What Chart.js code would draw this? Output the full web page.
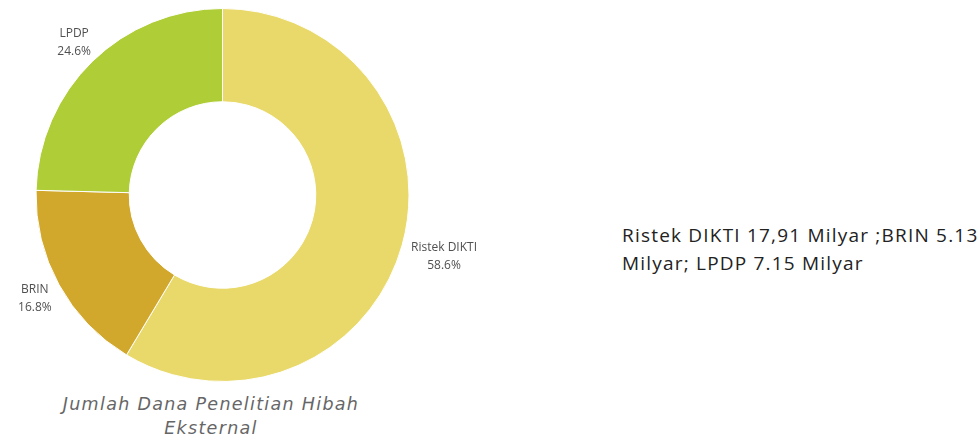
<!DOCTYPE html>
<html>
<head>
<meta charset="utf-8">
<script src="https://cdn.jsdelivr.net/npm/chart.js@4"></script>
<style>
  body { margin: 0; background: #fff; width: 980px; height: 445px; overflow: hidden; position: relative; font-family: "Open Sans", sans-serif; }
  #wrap { position: absolute; left: 0; top: 0; width: 510px; height: 390px; }
  #caption { position: absolute; left: 36px; top: 392px; width: 350px; text-align: center; font-family: "DejaVu Sans", sans-serif; font-style: italic; font-size: 17.5px; letter-spacing: 1.3px; line-height: 24px; color: #666; }
  #note { position: absolute; left: 622px; top: 221px; width: 375px; font-size: 19px; letter-spacing: 1.2px; line-height: 28px; color: #222; }
</style>
</head>
<body>
<div id="wrap"><canvas id="myDana"></canvas></div>
<div id="caption">Jumlah Dana Penelitian Hibah Eksternal</div>
<div id="note">Ristek DIKTI 17,91 Milyar ;BRIN 5.13 Milyar; LPDP 7.15 Milyar</div>
<script>
const labels = ['Ristek DIKTI', 'BRIN', 'LPDP'];
const shares = [58.6, 16.8, 24.6];
const colors = ['#E9D96A', '#D2A82C', '#AECD36'];

// labels outside the ring, name on top and share below
const outsideLabels = {
  id: 'outsideLabels',
  afterDatasetsDraw(chart) {
    const ctx = chart.ctx;
    const total = shares.reduce((a, b) => a + b, 0);
    ctx.save();
    ctx.font = '12px "Open Sans", sans-serif';
    ctx.fillStyle = '#505050';
    ctx.textAlign = 'center';
    ctx.textBaseline = 'middle';
    chart.getDatasetMeta(0).data.forEach((arc, i) => {
      const p = arc.getProps(['x', 'y', 'startAngle', 'endAngle', 'outerRadius'], true);
      const mid = (p.startAngle + p.endAngle) / 2;
      const pct = (shares[i] / total * 100).toFixed(1) + '%';
      const hw = Math.max(ctx.measureText(labels[i]).width, ctx.measureText(pct).width) / 2;
      const r = p.outerRadius + 10 + hw * Math.abs(Math.cos(mid)) + 6 * Math.abs(Math.sin(mid));
      const x = p.x + Math.cos(mid) * r;
      const y = p.y + Math.sin(mid) * r;
      ctx.fillText(labels[i], x, y - 9);
      ctx.fillText(pct, x, y + 9);
    });
    ctx.restore();
  }
};

const myDana = document.getElementById('myDana');

new Chart(myDana, {
  type: 'doughnut',
  data: {
    labels: labels,
    datasets: [{
      data: shares,
      backgroundColor: colors,
      borderColor: '#fff',
      borderWidth: 1
    }]
  },
  options: {
    responsive: true,
    maintainAspectRatio: false,
    animation: false,
    cutout: '50%',
    layout: { padding: { top: 8, bottom: 8, left: 0, right: 65 } },
    plugins: {
      legend: { display: false },
      tooltip: { enabled: false }
    }
  },
  plugins: [outsideLabels]
});
</script>
</body>
</html>
